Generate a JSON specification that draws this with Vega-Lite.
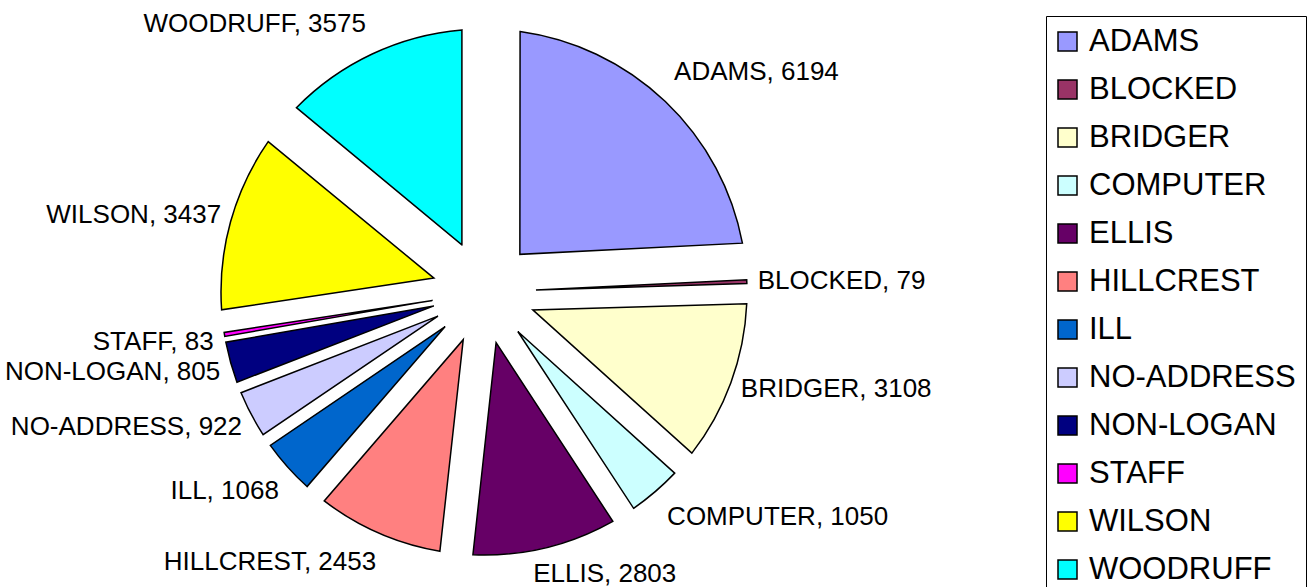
{
  "$schema": "https://vega.github.io/schema/vega-lite/v6.json",
  "autosize": {"type": "none"},
  "padding": {"left": 0, "top": 0, "right": 348, "bottom": 3},
  "width": 968,
  "height": 584,
  "background": "white",
  "data": {
    "values": [
      {"category": "ADAMS", "count": 6194, "label": "ADAMS, 6194"},
      {"category": "BLOCKED", "count": 79, "label": "BLOCKED, 79"},
      {"category": "BRIDGER", "count": 3108, "label": "BRIDGER, 3108"},
      {"category": "COMPUTER", "count": 1050, "label": "COMPUTER, 1050"},
      {"category": "ELLIS", "count": 2803, "label": "ELLIS, 2803"},
      {"category": "HILLCREST", "count": 2453, "label": "HILLCREST, 2453"},
      {"category": "ILL", "count": 1068, "label": "ILL, 1068"},
      {"category": "NO-ADDRESS", "count": 922, "label": "NO-ADDRESS, 922"},
      {"category": "NON-LOGAN", "count": 805, "label": "NON-LOGAN, 805"},
      {"category": "STAFF", "count": 83, "label": "STAFF, 83"},
      {"category": "WILSON", "count": 3437, "label": "WILSON, 3437"},
      {"category": "WOODRUFF", "count": 3575, "label": "WOODRUFF, 3575"}
    ]
  },
  "encoding": {
    "theta": {"field": "count", "type": "quantitative", "stack": true},
    "order": {"field": "category", "type": "ordinal", "sort": "ascending"},
    "color": {
      "field": "category",
      "type": "nominal",
      "scale": {
        "domain": ["ADAMS", "BLOCKED", "BRIDGER", "COMPUTER", "ELLIS", "HILLCREST", "ILL", "NO-ADDRESS", "NON-LOGAN", "STAFF", "WILSON", "WOODRUFF"],
        "range": ["#9999FF", "#993366", "#FFFFCC", "#CCFFFF", "#660066", "#FF8080", "#0066CC", "#CCCCFF", "#000080", "#FF00FF", "#FFFF00", "#00FFFF"]
      },
      "legend": {
        "title": null,
        "orient": "none",
        "legendX": 1046,
        "legendY": 16,
        "labelFontSize": 31,
        "labelFont": "Liberation Sans",
        "labelColor": "black",
        "labelLimit": 400,
        "labelOffset": 6,
        "symbolOffset": -4,
        "symbolType": "square",
        "symbolSize": 361,
        "symbolStrokeColor": "black",
        "symbolStrokeWidth": 1.5,
        "symbolOpacity": 1,
        "strokeColor": "black",
        "fillColor": "white",
        "padding": 10,
        "rowPadding": 16
      }
    }
  },
  "layer": [
    {
      "mark": {"type": "arc", "innerRadius": 52, "outerRadius": 263, "padAngle": 0.27, "stroke": "black", "strokeWidth": 1.5},
      "encoding": {"opacity": {"condition": {"test": "datum.category === 'ADAMS'", "value": 1}, "value": 0}}
    },
    {
      "mark": {"type": "arc", "innerRadius": 52, "outerRadius": 263, "padAngle": 0.165, "stroke": "black", "strokeWidth": 1.5},
      "encoding": {"opacity": {"condition": {"test": "indexof(['WILSON','WOODRUFF'], datum.category) >= 0", "value": 1}, "value": 0}}
    },
    {
      "mark": {"type": "arc", "innerRadius": 52, "outerRadius": 263, "padAngle": 0.146, "stroke": "black", "strokeWidth": 1.5},
      "encoding": {"opacity": {"condition": {"test": "datum.category === 'BRIDGER'", "value": 1}, "value": 0}}
    },
    {
      "mark": {"type": "arc", "innerRadius": 52, "outerRadius": 263, "padAngle": 0.132, "stroke": "black", "strokeWidth": 1.5},
      "encoding": {"opacity": {"condition": {"test": "datum.category === 'ELLIS'", "value": 1}, "value": 0}}
    },
    {
      "mark": {"type": "arc", "innerRadius": 52, "outerRadius": 263, "padAngle": 0.116, "stroke": "black", "strokeWidth": 1.5},
      "encoding": {"opacity": {"condition": {"test": "datum.category === 'HILLCREST'", "value": 1}, "value": 0}}
    },
    {
      "mark": {"type": "arc", "innerRadius": 52, "outerRadius": 263, "padAngle": 0.051, "stroke": "black", "strokeWidth": 1.5},
      "encoding": {"opacity": {"condition": {"test": "indexof(['COMPUTER','ILL'], datum.category) >= 0", "value": 1}, "value": 0}}
    },
    {
      "mark": {"type": "arc", "innerRadius": 52, "outerRadius": 263, "padAngle": 0.045, "stroke": "black", "strokeWidth": 1.5},
      "encoding": {"opacity": {"condition": {"test": "datum.category === 'NO-ADDRESS'", "value": 1}, "value": 0}}
    },
    {
      "mark": {"type": "arc", "innerRadius": 52, "outerRadius": 263, "padAngle": 0.039, "stroke": "black", "strokeWidth": 1.5},
      "encoding": {"opacity": {"condition": {"test": "datum.category === 'NON-LOGAN'", "value": 1}, "value": 0}}
    },
    {
      "mark": {"type": "arc", "innerRadius": 52, "outerRadius": 263, "padAngle": 0.005, "stroke": "black", "strokeWidth": 1.5},
      "encoding": {"opacity": {"condition": {"test": "indexof(['BLOCKED','STAFF'], datum.category) >= 0", "value": 1}, "value": 0}}
    },
    {
      "mark": {"type": "text", "radius": 280, "align": "left", "baseline": "middle", "dx": -6, "dy": 0, "font": "Liberation Sans", "fontSize": 26},
      "encoding": {
        "color": {"value": "black"},
        "text": {"condition": {"test": "indexof(['BLOCKED','BRIDGER'], datum.category) >= 0", "field": "label", "type": "nominal"}, "value": ""}
      }
    },
    {
      "mark": {"type": "text", "radius": 280, "align": "left", "baseline": "middle", "dx": -3, "dy": -17, "font": "Liberation Sans", "fontSize": 26},
      "encoding": {
        "color": {"value": "black"},
        "text": {"condition": {"test": "datum.category === 'ADAMS'", "field": "label", "type": "nominal"}, "value": ""}
      }
    },
    {
      "mark": {"type": "text", "radius": 280, "align": "left", "baseline": "middle", "dx": 1, "dy": 12, "font": "Liberation Sans", "fontSize": 26},
      "encoding": {
        "color": {"value": "black"},
        "text": {"condition": {"test": "datum.category === 'COMPUTER'", "field": "label", "type": "nominal"}, "value": ""}
      }
    },
    {
      "mark": {"type": "text", "radius": 280, "align": "left", "baseline": "middle", "dx": -16, "dy": 10, "font": "Liberation Sans", "fontSize": 26},
      "encoding": {
        "color": {"value": "black"},
        "text": {"condition": {"test": "datum.category === 'ELLIS'", "field": "label", "type": "nominal"}, "value": ""}
      }
    },
    {
      "mark": {"type": "text", "radius": 280, "align": "right", "baseline": "middle", "dx": 4, "dy": 13, "font": "Liberation Sans", "fontSize": 26},
      "encoding": {
        "color": {"value": "black"},
        "text": {"condition": {"test": "indexof(['HILLCREST','ILL'], datum.category) >= 0", "field": "label", "type": "nominal"}, "value": ""}
      }
    },
    {
      "mark": {"type": "text", "radius": 280, "align": "right", "baseline": "middle", "dx": 6, "dy": 5, "font": "Liberation Sans", "fontSize": 26},
      "encoding": {
        "color": {"value": "black"},
        "text": {"condition": {"test": "indexof(['NO-ADDRESS','NON-LOGAN','STAFF'], datum.category) >= 0", "field": "label", "type": "nominal"}, "value": ""}
      }
    },
    {
      "mark": {"type": "text", "radius": 280, "align": "right", "baseline": "middle", "dx": 7, "dy": -2, "font": "Liberation Sans", "fontSize": 26},
      "encoding": {
        "color": {"value": "black"},
        "text": {"condition": {"test": "datum.category === 'WILSON'", "field": "label", "type": "nominal"}, "value": ""}
      }
    },
    {
      "mark": {"type": "text", "radius": 280, "align": "right", "baseline": "middle", "dx": 1, "dy": -15, "font": "Liberation Sans", "fontSize": 26},
      "encoding": {
        "color": {"value": "black"},
        "text": {"condition": {"test": "datum.category === 'WOODRUFF'", "field": "label", "type": "nominal"}, "value": ""}
      }
    }
  ]
}
